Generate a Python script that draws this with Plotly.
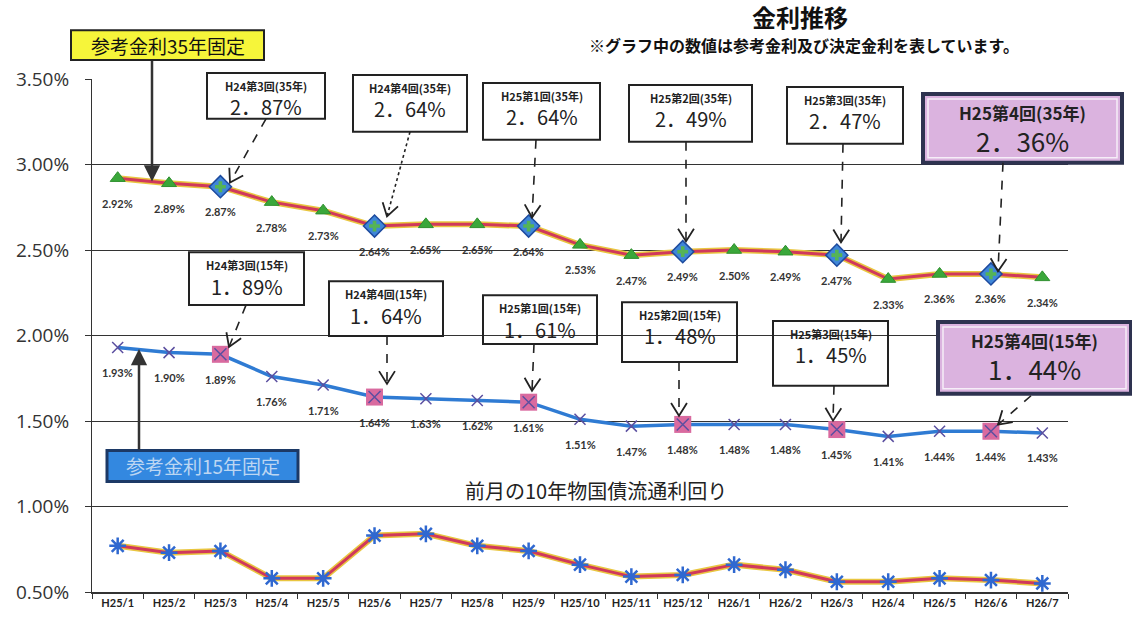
import math
import plotly.graph_objects as go

# ---------------- data ----------------
months = ["H25/1", "H25/2", "H25/3", "H25/4", "H25/5", "H25/6", "H25/7", "H25/8", "H25/9",
          "H25/10", "H25/11", "H25/12", "H26/1", "H26/2", "H26/3", "H26/4", "H26/5", "H26/6", "H26/7"]
rate35 = [2.92, 2.89, 2.87, 2.78, 2.73, 2.64, 2.65, 2.65, 2.64, 2.53,
          2.47, 2.49, 2.50, 2.49, 2.47, 2.33, 2.36, 2.36, 2.34]
rate15 = [1.93, 1.90, 1.89, 1.76, 1.71, 1.64, 1.63, 1.62, 1.61, 1.51,
          1.47, 1.48, 1.48, 1.48, 1.45, 1.41, 1.44, 1.44, 1.43]
jgb10 = [0.77, 0.73, 0.74, 0.58, 0.58, 0.83, 0.84, 0.77, 0.74, 0.66,
         0.59, 0.60, 0.66, 0.63, 0.56, 0.56, 0.58, 0.57, 0.55]
decision_idx = [2, 5, 8, 11, 14, 17]
decision_rounds = ["H24第3回", "H24第4回", "H25第1回", "H25第2回", "H25第3回", "H25第4回"]

# ---------------- layout geometry (pixels) ----------------
FW, FH = 1132, 621
L, R, T, B = 92, 1068, 79, 594
PW, PH = R - L, B - T


def xp(px):
    return (px - L) / PW


def yp(py):
    return (B - py) / PH


JP = "Noto Sans CJK JP"
fig = go.Figure()

# 35-year
fig.add_trace(go.Scatter(x=months, y=rate35, mode="lines",
                         line=dict(color="#e9c640", width=6), hoverinfo="skip"))
fig.add_trace(go.Scatter(x=months, y=rate35, mode="lines+markers",
                         line=dict(color="#d0385c", width=3),
                         marker=dict(symbol="triangle-up", size=13, color="#3aa73a",
                                     line=dict(color="#2f902f", width=1))))
fig.add_trace(go.Scatter(x=[months[i] for i in decision_idx], y=[rate35[i] for i in decision_idx],
                         mode="markers",
                         marker=dict(symbol="diamond", size=17, color="#3f86d8",
                                     line=dict(color="#1d4a9e", width=1.5))))
fig.add_trace(go.Scatter(x=[months[i] for i in decision_idx], y=[rate35[i] for i in decision_idx],
                         mode="markers",
                         marker=dict(symbol="cross", size=9, color="#55b455")))

# 15-year
fig.add_trace(go.Scatter(x=months, y=rate15, mode="lines+markers",
                         line=dict(color="#2f7bd3", width=3.5),
                         marker=dict(symbol="x-thin", size=11,
                                     line=dict(color="#5b4fa0", width=1.5))))
fig.add_trace(go.Scatter(x=[months[i] for i in decision_idx], y=[rate15[i] for i in decision_idx],
                         mode="markers",
                         marker=dict(symbol="square", size=17, color="#d96a9f")))
fig.add_trace(go.Scatter(x=[months[i] for i in decision_idx], y=[rate15[i] for i in decision_idx],
                         mode="markers",
                         marker=dict(symbol="x-thin", size=12,
                                     line=dict(color="#5b4fa0", width=1.5))))

# 10-year JGB
fig.add_trace(go.Scatter(x=months, y=jgb10, mode="lines",
                         line=dict(color="#e9c640", width=6), hoverinfo="skip"))
fig.add_trace(go.Scatter(x=months, y=jgb10, mode="lines+markers",
                         line=dict(color="#d0385c", width=3),
                         marker=dict(symbol="asterisk", size=14,
                                     line=dict(color="#2f68d0", width=2.5))))

annotations = []
shapes = []


def text_at(px, py, text, size, color="#222", weight="normal", family=JP):
    annotations.append(dict(x=xp(px), y=yp(py), xref="paper", yref="paper", text=text,
                            showarrow=False, xanchor="center", yanchor="middle",
                            font=dict(family=family, size=size, color=color, weight=weight)))


# data labels
for series in (rate35, rate15):
    for m, v in zip(months, series):
        annotations.append(dict(x=m, y=v, xref="x", yref="y", text=f"{v:.2f}%",
                                showarrow=False, yshift=-25, xanchor="center", yanchor="middle",
                                font=dict(family="Lato", size=11, color="#333", weight="bold")))

# call-out boxes (pixel rectangles) and their arrows
box35 = [(207, 73, 325, 119), (353, 75, 467, 132), (483, 83, 600, 140),
         (629, 85, 752, 142), (787, 87, 903, 144), (923, 94, 1122, 163)]
box15 = [(189, 253, 304, 306), (329, 282, 443, 337), (483, 296, 597, 345),
         (622, 303, 737, 363), (773, 322, 888, 387), (938, 323, 1131, 395)]
arr35 = [((266, 119), (230, 183)), ((410, 132), (387, 217)), ((536, 140), (532, 218)),
         ((686, 142), (686, 242)), ((843, 144), (841, 243)), ((1003, 163), (998, 272))]
arr15 = [((246, 306), (229, 348)), ((387, 337), (387, 385)), ((534, 345), (532, 392)),
         ((679, 363), (679, 417)), ((834, 387), (833, 422)), ((1031, 397), (998, 426))]


def add_box(rect, title, value, big):
    x0, y0, x1, y1 = rect
    cx = (x0 + x1) / 2
    if big:
        shapes.append(dict(type="rect", xref="paper", yref="paper",
                           x0=xp(x0), x1=xp(x1), y0=yp(y1), y1=yp(y0),
                           fillcolor="#dbb3df", line=dict(color="#2e3350", width=4)))
        shapes.append(dict(type="rect", xref="paper", yref="paper",
                           x0=xp(x0 + 5), x1=xp(x1 - 5), y0=yp(y1 - 5), y1=yp(y0 + 5),
                           fillcolor="rgba(0,0,0,0)", line=dict(color="#f6eef8", width=1.5)))
        text_at(cx, y0 + 19, title, 17, weight="bold")
        text_at(cx, y0 + 47, value, 26)
    else:
        shapes.append(dict(type="rect", xref="paper", yref="paper",
                           x0=xp(x0), x1=xp(x1), y0=yp(y1), y1=yp(y0),
                           fillcolor="rgba(0,0,0,0)", line=dict(color="#222", width=2)))
        text_at(cx, y0 + 13, title, 11, weight="bold")
        text_at(cx, y0 + 34, value, 20)


def add_arrow(tail, tip, dash):
    (tx, ty), (hx, hy) = tail, tip
    shapes.append(dict(type="line", xref="paper", yref="paper",
                       x0=xp(tx), y0=yp(ty), x1=xp(hx), y1=yp(hy),
                       line=dict(color="#222", width=1.6, dash=dash)))
    dx, dy = hx - tx, hy - ty
    n = math.hypot(dx, dy)
    ux, uy = dx / n, dy / n
    arm, ang = 15, math.radians(32)
    pts = []
    for s in (1, -1):
        c, sn = math.cos(s * ang), math.sin(s * ang)
        rx, ry = ux * c - uy * sn, ux * sn + uy * c
        pts.append((hx - arm * rx, hy - arm * ry))
    path = (f"M {xp(pts[0][0])},{yp(pts[0][1])} L {xp(hx)},{yp(hy)} "
            f"L {xp(pts[1][0])},{yp(pts[1][1])}")
    shapes.append(dict(type="path", xref="paper", yref="paper", path=path,
                       line=dict(color="#222", width=1.8)))


def pct(v):
    return f"{v:.2f}".replace(".", "．") + "%"


for k, i in enumerate(decision_idx):
    big = k == len(decision_idx) - 1
    add_box(box35[k], f"{decision_rounds[k]}(35年)", pct(rate35[i]), big)
    add_box(box15[k], f"{decision_rounds[k]}(15年)", pct(rate15[i]), big)
    add_arrow(*arr35[k], "dot" if k == 1 else "dash")
    add_arrow(*arr15[k], "dash")

# reference-rate labels
shapes.append(dict(type="rect", xref="paper", yref="paper",
                   x0=xp(71), x1=xp(264), y0=yp(60), y1=yp(30),
                   fillcolor="#f6f53a", line=dict(color="#222", width=2)))
text_at(167.5, 45, "参考金利35年固定", 19, color="#111")
annotations.append(dict(x=xp(152), y=yp(182), xref="paper", yref="paper", text="",
                        showarrow=True, ax=0, ay=-122, arrowhead=2, arrowsize=1.3,
                        arrowwidth=2.5, arrowcolor="#333"))

shapes.append(dict(type="rect", xref="paper", yref="paper",
                   x0=xp(107), x1=xp(298), y0=yp(483), y1=yp(452),
                   fillcolor="#3388e0", line=dict(color="#1c3966", width=3)))
text_at(202.5, 467.5, "参考金利15年固定", 19, color="#bcd6f2")
annotations.append(dict(x=xp(139), y=yp(350), xref="paper", yref="paper", text="",
                        showarrow=True, ax=0, ay=102, arrowhead=2, arrowsize=1.3,
                        arrowwidth=2.5, arrowcolor="#333"))

# titles
text_at(800, 16, "金利推移", 24, color="#111", weight="bold")
text_at(804, 45, "※グラフ中の数値は参考金利及び決定金利を表しています。", 16, color="#111", weight="bold")
text_at(596, 492, "前月の10年物国債流通利回り", 20)

fig.update_layout(
    width=FW, height=FH,
    margin=dict(l=L, r=FW - R, t=T, b=FH - B, pad=0),
    paper_bgcolor="white", plot_bgcolor="white", showlegend=False,
    xaxis=dict(type="category", categoryorder="array", categoryarray=months,
               range=[-0.5, 18.5], showline=True, linecolor="#333", linewidth=1.5,
               ticks="outside", tickson="boundaries", ticklen=5, tickcolor="#333",
               showgrid=False, tickangle=0,
               tickfont=dict(family="Lato", size=11, color="#222", weight="bold")),
    yaxis=dict(range=[0.5, 3.5], tick0=0.5, dtick=0.5, tickformat=".2f", ticksuffix="%",
               showgrid=True, gridcolor="#333", gridwidth=1.2, zeroline=False,
               showline=True, linecolor="#333", linewidth=1,
               ticks="outside", ticklen=6, tickcolor="#333", ticklabelstandoff=12,
               tickfont=dict(family="Open Sans", size=19, color="#333")),
    annotations=annotations, shapes=shapes,
)

fig.write_html("out.html", config={"displayModeBar": False},
               post_script="document.body.style.margin='0';document.body.style.overflow='hidden';")
